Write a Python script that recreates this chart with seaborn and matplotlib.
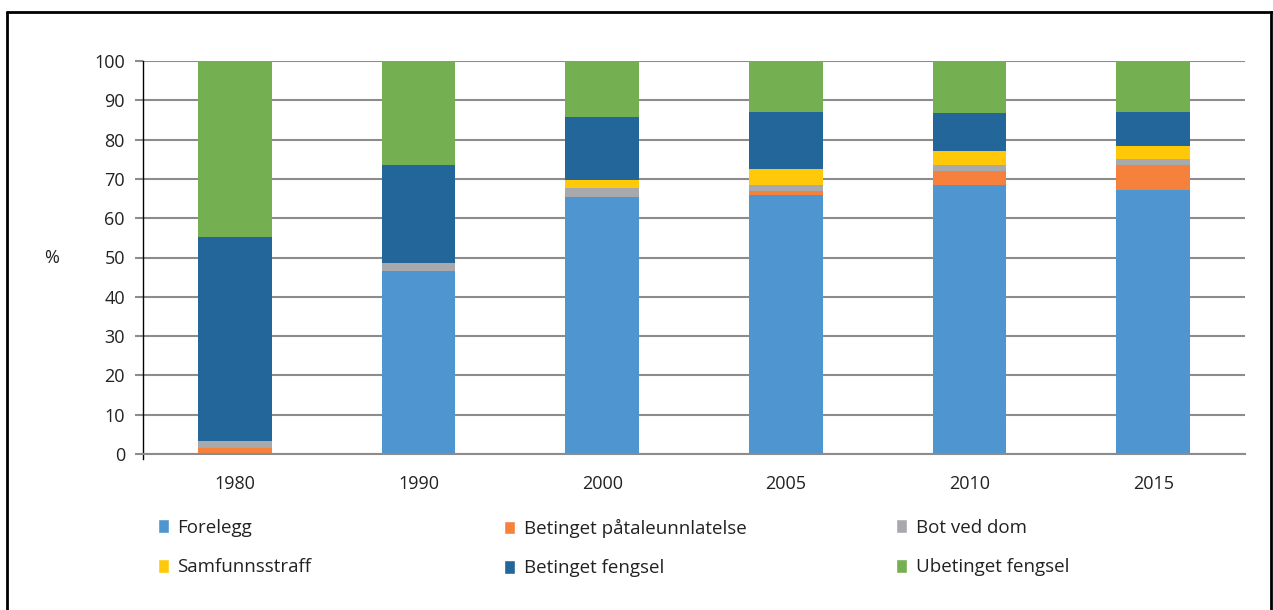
import matplotlib
matplotlib.use("Agg")
import matplotlib.pyplot as plt
import seaborn as sns
import pandas as pd
from matplotlib.patches import Patch
from matplotlib.lines import Line2D

years = ["1980", "1990", "2000", "2005", "2010", "2015"]
forelegg = [0.0, 46.6, 65.3, 66.0, 68.5, 67.3]
betinget_patale = [1.6, 0.0, 0.1, 0.8, 3.5, 6.3]
bot_ved_dom = [1.8, 1.9, 2.4, 1.6, 1.5, 1.4]
samfunnsstraff = [0.0, 0.0, 1.9, 4.0, 3.7, 3.4]
betinget_fengsel = [51.7, 25.1, 16.0, 14.5, 9.5, 8.5]
ubetinget_fengsel = [44.9, 26.4, 14.3, 13.1, 13.3, 13.1]

labels = ["Forelegg", "Betinget påtaleunnlatelse", "Bot ved dom",
          "Samfunnsstraff", "Betinget fengsel", "Ubetinget fengsel"]
colors = ["#4F95D0", "#F5813D", "#A7A9AC", "#FFC90A", "#22669A", "#74AF51"]

df = pd.DataFrame({"year": years, labels[0]: forelegg, labels[1]: betinget_patale,
                   labels[2]: bot_ved_dom, labels[3]: samfunnsstraff,
                   labels[4]: betinget_fengsel, labels[5]: ubetinget_fengsel})

sns.set_theme(style="white")
plt.rcParams['font.family'] = ['Open Sans', 'DejaVu Sans']

fig = plt.figure(figsize=(12.73, 6.10), dpi=100)
ax = fig.add_axes([143/1273, 156/610, 1102/1273, 393/610])

bottom = [0.0] * len(years)
for lab, col in zip(labels, colors):
    sns.barplot(data=df, x="year", y=lab, bottom=bottom, color=col, width=0.4,
                ax=ax, saturation=1, linewidth=0)
    bottom = [b + v for b, v in zip(bottom, df[lab])]

ax.set_ylim(0, 100)
ax.set_xlim(-0.5, 5.5)
ax.set_yticks(range(0, 101, 10))
ax.set_xlabel("")
ax.set_ylabel("")
ax.yaxis.grid(True, color="#8C8C8C", linewidth=1.5)
ax.set_axisbelow(True)
for s in ["top", "right"]:
    ax.spines[s].set_visible(False)
ax.spines["bottom"].set_color("#8C8C8C")
ax.spines["bottom"].set_linewidth(1.5)
ax.spines["left"].set_color("black")
ax.spines["left"].set_linewidth(1)
ax.spines["left"].set_bounds(-1.3, 100)
ax.tick_params(axis="y", left=True, length=6, width=1.5, color="#8C8C8C",
               labelsize=13, labelcolor="#222222", pad=7)
ax.tick_params(axis="x", bottom=False, labelsize=13, labelcolor="#222222", pad=9)
fig.text(52/1273, 1 - 258/610, "%", fontsize=13, color="#222222", va="center", ha="center")

# legend, one column at a time
col_x = [141/1273, 487/1273, 879/1273]
for i in range(3):
    handles = [Patch(facecolor=colors[i]), Patch(facecolor=colors[i + 3])]
    fig.legend(handles, [labels[i], labels[i + 3]], loc="upper left",
               bbox_to_anchor=(col_x[i], 1 - 502/610), frameon=False,
               fontsize=13.5, handlelength=0.6, handleheight=0.75,
               handletextpad=0.45, labelspacing=1.15, labelcolor="#222222")

# outer frame
fig.add_artist(Line2D([7/1273, 7/1273], [0, 1 - 12/610], color="black", lw=2, transform=fig.transFigure))
fig.add_artist(Line2D([7/1273, 1], [1 - 12/610, 1 - 12/610], color="black", lw=2, transform=fig.transFigure))
fig.add_artist(Line2D([1271/1273, 1271/1273], [0, 1 - 12/610], color="black", lw=2, transform=fig.transFigure))

fig.savefig("out.png", dpi=100)
